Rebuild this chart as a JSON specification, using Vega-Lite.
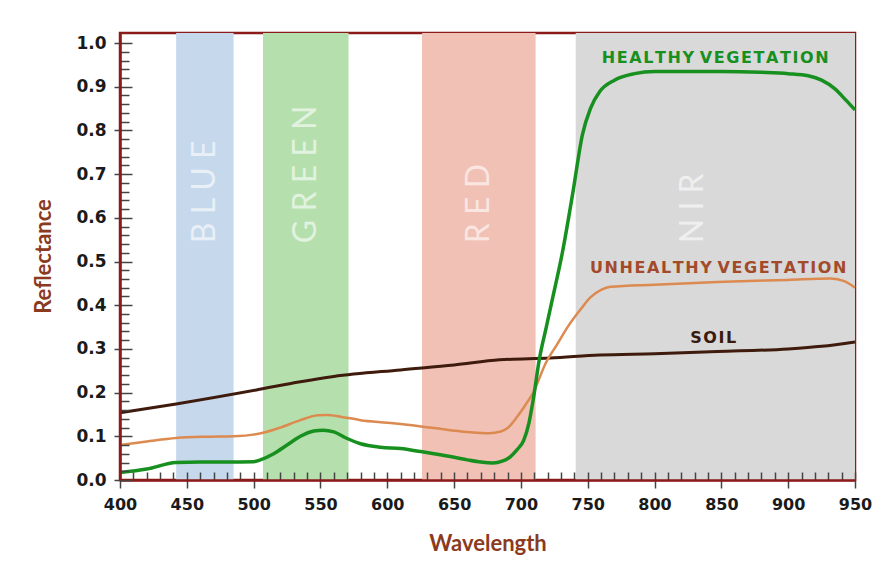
{
  "$schema": "https://vega.github.io/schema/vega-lite/v6.json",
  "width": 735,
  "height": 447,
  "autosize": "none",
  "padding": {"left": 120, "top": 33, "right": 38, "bottom": 93},
  "background": "white",
  "config": {
    "view": {"stroke": "#8b1a1a", "strokeWidth": 2.5},
    "axis": {"grid": false}
  },
  "datasets": {
    "bands": [
      {"band": "BLUE", "start": 442, "end": 485, "mid": 463.5, "label": "B  L  U  E", "pos": 0.542},
      {"band": "GREEN", "start": 507, "end": 571, "mid": 539, "label": "G  R  E  E  N", "pos": 0.542},
      {"band": "RED", "start": 626, "end": 711, "mid": 668.5, "label": "R  E  D", "pos": 0.542},
      {"band": "NIR", "start": 741, "end": 950, "mid": 829, "label": "N  I  R", "pos": 0.542}
    ],
    "spectra": [
      {"series": "soil", "wavelength": 400, "reflectance": 0.154},
      {"series": "soil", "wavelength": 442, "reflectance": 0.174},
      {"series": "soil", "wavelength": 502, "reflectance": 0.206},
      {"series": "soil", "wavelength": 535, "reflectance": 0.225},
      {"series": "soil", "wavelength": 560, "reflectance": 0.237},
      {"series": "soil", "wavelength": 610, "reflectance": 0.252},
      {"series": "soil", "wavelength": 650, "reflectance": 0.263},
      {"series": "soil", "wavelength": 684, "reflectance": 0.275},
      {"series": "soil", "wavelength": 722, "reflectance": 0.279},
      {"series": "soil", "wavelength": 759, "reflectance": 0.286},
      {"series": "soil", "wavelength": 800, "reflectance": 0.289},
      {"series": "soil", "wavelength": 847, "reflectance": 0.294},
      {"series": "soil", "wavelength": 900, "reflectance": 0.300},
      {"series": "soil", "wavelength": 925, "reflectance": 0.306},
      {"series": "soil", "wavelength": 950, "reflectance": 0.316},

      {"series": "unhealthy", "wavelength": 400, "reflectance": 0.080},
      {"series": "unhealthy", "wavelength": 420, "reflectance": 0.088},
      {"series": "unhealthy", "wavelength": 442, "reflectance": 0.096},
      {"series": "unhealthy", "wavelength": 465, "reflectance": 0.099},
      {"series": "unhealthy", "wavelength": 485, "reflectance": 0.100},
      {"series": "unhealthy", "wavelength": 507, "reflectance": 0.108},
      {"series": "unhealthy", "wavelength": 520, "reflectance": 0.120},
      {"series": "unhealthy", "wavelength": 535, "reflectance": 0.137},
      {"series": "unhealthy", "wavelength": 548, "reflectance": 0.148},
      {"series": "unhealthy", "wavelength": 555, "reflectance": 0.149},
      {"series": "unhealthy", "wavelength": 565, "reflectance": 0.145},
      {"series": "unhealthy", "wavelength": 580, "reflectance": 0.137},
      {"series": "unhealthy", "wavelength": 600, "reflectance": 0.131},
      {"series": "unhealthy", "wavelength": 610, "reflectance": 0.128},
      {"series": "unhealthy", "wavelength": 635, "reflectance": 0.119},
      {"series": "unhealthy", "wavelength": 660, "reflectance": 0.110},
      {"series": "unhealthy", "wavelength": 676, "reflectance": 0.107},
      {"series": "unhealthy", "wavelength": 685, "reflectance": 0.111},
      {"series": "unhealthy", "wavelength": 690, "reflectance": 0.119},
      {"series": "unhealthy", "wavelength": 697, "reflectance": 0.144},
      {"series": "unhealthy", "wavelength": 703, "reflectance": 0.170},
      {"series": "unhealthy", "wavelength": 709, "reflectance": 0.199},
      {"series": "unhealthy", "wavelength": 719, "reflectance": 0.270},
      {"series": "unhealthy", "wavelength": 727, "reflectance": 0.310},
      {"series": "unhealthy", "wavelength": 736, "reflectance": 0.355},
      {"series": "unhealthy", "wavelength": 745, "reflectance": 0.392},
      {"series": "unhealthy", "wavelength": 752, "reflectance": 0.418},
      {"series": "unhealthy", "wavelength": 760, "reflectance": 0.435},
      {"series": "unhealthy", "wavelength": 767, "reflectance": 0.442},
      {"series": "unhealthy", "wavelength": 800, "reflectance": 0.447},
      {"series": "unhealthy", "wavelength": 847, "reflectance": 0.453},
      {"series": "unhealthy", "wavelength": 900, "reflectance": 0.458},
      {"series": "unhealthy", "wavelength": 932, "reflectance": 0.461},
      {"series": "unhealthy", "wavelength": 942, "reflectance": 0.455},
      {"series": "unhealthy", "wavelength": 950, "reflectance": 0.440},

      {"series": "healthy", "wavelength": 400, "reflectance": 0.017},
      {"series": "healthy", "wavelength": 420, "reflectance": 0.025},
      {"series": "healthy", "wavelength": 442, "reflectance": 0.040},
      {"series": "healthy", "wavelength": 460, "reflectance": 0.041},
      {"series": "healthy", "wavelength": 480, "reflectance": 0.041},
      {"series": "healthy", "wavelength": 500, "reflectance": 0.042},
      {"series": "healthy", "wavelength": 505, "reflectance": 0.046},
      {"series": "healthy", "wavelength": 515, "reflectance": 0.060},
      {"series": "healthy", "wavelength": 525, "reflectance": 0.080},
      {"series": "healthy", "wavelength": 535, "reflectance": 0.100},
      {"series": "healthy", "wavelength": 545, "reflectance": 0.112},
      {"series": "healthy", "wavelength": 552, "reflectance": 0.114},
      {"series": "healthy", "wavelength": 560, "reflectance": 0.110},
      {"series": "healthy", "wavelength": 570, "reflectance": 0.095},
      {"series": "healthy", "wavelength": 580, "reflectance": 0.083},
      {"series": "healthy", "wavelength": 595, "reflectance": 0.075},
      {"series": "healthy", "wavelength": 610, "reflectance": 0.072},
      {"series": "healthy", "wavelength": 625, "reflectance": 0.065},
      {"series": "healthy", "wavelength": 635, "reflectance": 0.060},
      {"series": "healthy", "wavelength": 650, "reflectance": 0.052},
      {"series": "healthy", "wavelength": 660, "reflectance": 0.046},
      {"series": "healthy", "wavelength": 670, "reflectance": 0.041},
      {"series": "healthy", "wavelength": 679, "reflectance": 0.039},
      {"series": "healthy", "wavelength": 686, "reflectance": 0.043},
      {"series": "healthy", "wavelength": 692, "reflectance": 0.053},
      {"series": "healthy", "wavelength": 697, "reflectance": 0.069},
      {"series": "healthy", "wavelength": 702, "reflectance": 0.090},
      {"series": "healthy", "wavelength": 706, "reflectance": 0.130},
      {"series": "healthy", "wavelength": 709, "reflectance": 0.180},
      {"series": "healthy", "wavelength": 714, "reflectance": 0.280},
      {"series": "healthy", "wavelength": 719, "reflectance": 0.350},
      {"series": "healthy", "wavelength": 724, "reflectance": 0.420},
      {"series": "healthy", "wavelength": 731, "reflectance": 0.520},
      {"series": "healthy", "wavelength": 739, "reflectance": 0.660},
      {"series": "healthy", "wavelength": 746, "reflectance": 0.790},
      {"series": "healthy", "wavelength": 752, "reflectance": 0.850},
      {"series": "healthy", "wavelength": 759, "reflectance": 0.889},
      {"series": "healthy", "wavelength": 770, "reflectance": 0.915},
      {"series": "healthy", "wavelength": 785, "reflectance": 0.930},
      {"series": "healthy", "wavelength": 800, "reflectance": 0.935},
      {"series": "healthy", "wavelength": 850, "reflectance": 0.935},
      {"series": "healthy", "wavelength": 880, "reflectance": 0.933},
      {"series": "healthy", "wavelength": 900, "reflectance": 0.930},
      {"series": "healthy", "wavelength": 915, "reflectance": 0.925},
      {"series": "healthy", "wavelength": 925, "reflectance": 0.915},
      {"series": "healthy", "wavelength": 935, "reflectance": 0.895},
      {"series": "healthy", "wavelength": 943, "reflectance": 0.870},
      {"series": "healthy", "wavelength": 950, "reflectance": 0.847}
    ],
    "labels": [
      {"series": "healthy", "wavelength": 845.4, "reflectance": 0.966, "text": "H\u200aE\u200aA\u200aL\u200aT\u200aH\u200aY V\u200aE\u200aG\u200aE\u200aT\u200aA\u200aT\u200aI\u200aO\u200aN"},
      {"series": "unhealthy", "wavelength": 847.6, "reflectance": 0.485, "text": "U\u200aN\u200aH\u200aE\u200aA\u200aL\u200aT\u200aH\u200aY V\u200aE\u200aG\u200aE\u200aT\u200aA\u200aT\u200aI\u200aO\u200aN"},
      {"series": "soil", "wavelength": 843.9, "reflectance": 0.325, "text": "S\u200aO\u200aI\u200aL"}
    ]
  },
  "layer": [
    {
      "data": {"name": "bands"},
      "mark": {"type": "rect"},
      "encoding": {
        "x": {
          "field": "start", "type": "quantitative",
          "scale": {"domain": [400, 950], "nice": false, "zero": false},
          "axis": {
            "values": [400,410,420,430,440,450,460,470,480,490,500,510,520,530,540,550,560,570,580,590,600,610,620,630,640,650,660,670,680,690,700,710,720,730,740,750,760,770,780,790,800,810,820,830,840,850,860,870,880,890,900,910,920,930,940,950],
            "tickCount": 1000,
            "format": "d",
            "labelExpr": "datum.value % 50 === 0 ? datum.label : ''",
            "labelOverlap": false,
            "labelFlush": false,
            "labelFont": "DejaVu Sans",
            "labelFontWeight": "bold",
            "labelFontSize": 16,
            "labelColor": "#1a1a1a",
            "labelPadding": 8,
            "tickSize": 8,
            "tickColor": "#444444",
            "tickWidth": 1.5,
            "domainColor": "#8b1a1a",
            "domainWidth": 2.5,
            "zindex": 1,
            "title": "Wavelength",
            "titleFont": "Lato",
            "titleFontSize": 22,
            "titleFontWeight": "bold",
            "titleColor": "#8b3a1e",
            "titleBaseline": "middle",
            "titleY": 63,
            "encoding": {
              "ticks": {
                "y": {"value": -8},
                "y2": {"condition": {"test": "datum.value % 50 === 0", "value": 8}, "value": 0}
              }
            }
          }
        },
        "x2": {"field": "end"},
        "color": {
          "field": "band", "type": "nominal",
          "scale": {"domain": ["BLUE", "GREEN", "RED", "NIR"], "range": ["#c6d8ec", "#b5e0ae", "#f1c1b5", "#d9d9d9"]},
          "legend": null
        }
      }
    },
    {
      "data": {"name": "bands"},
      "mark": {"type": "text", "angle": 270, "align": "left", "baseline": "middle", "font": "Lato", "fontSize": 32, "fontWeight": "normal", "color": "white", "opacity": 0.6},
      "encoding": {
        "x": {"field": "mid", "type": "quantitative"},
        "y": {"field": "pos", "type": "quantitative"},
        "text": {"field": "label"}
      }
    },
    {
      "data": {"name": "spectra"},
      "transform": [{"filter": "datum.series === 'soil'"}],
      "mark": {"type": "line", "color": "#3e1b0d", "strokeWidth": 3, "interpolate": "monotone"},
      "encoding": {
        "x": {"field": "wavelength", "type": "quantitative"},
        "y": {
          "field": "reflectance", "type": "quantitative",
          "scale": {"domain": [0, 1.023], "nice": false},
          "axis": {
            "values": [0,0.02,0.04,0.06,0.08,0.1,0.12,0.14,0.16,0.18,0.2,0.22,0.24,0.26,0.28,0.3,0.32,0.34,0.36,0.38,0.4,0.42,0.44,0.46,0.48,0.5,0.52,0.54,0.56,0.58,0.6,0.62,0.64,0.66,0.68,0.7,0.72,0.74,0.76,0.78,0.8,0.82,0.84,0.86,0.88,0.9,0.92,0.94,0.96,0.98,1.0],
            "tickCount": 1000,
            "format": ".1f",
            "labelExpr": "abs(datum.value * 10 - round(datum.value * 10)) < 0.001 ? datum.label : ''",
            "labelOverlap": false,
            "labelFlush": false,
            "labelFont": "DejaVu Sans",
            "labelFontWeight": "bold",
            "labelFontSize": 17,
            "labelColor": "#1a1a1a",
            "labelPadding": 8,
            "tickSize": 6,
            "tickColor": "#444444",
            "tickWidth": 1.5,
            "domainColor": "#8b1a1a",
            "domainWidth": 2.5,
            "zindex": 1,
            "title": "Reflectance",
            "titleFont": "Lato",
            "titleFontSize": 22,
            "titleFontWeight": "bold",
            "titleColor": "#8b3a1e",
            "titleBaseline": "middle",
            "titleX": -77,
            "titleY": 223,
            "encoding": {
              "ticks": {
                "x": {"condition": {"test": "abs(datum.value * 10 - round(datum.value * 10)) < 0.001", "value": 12}, "value": 9},
                "x2": {"condition": {"test": "abs(datum.value * 10 - round(datum.value * 10)) < 0.001", "value": -6}, "value": 0}
              }
            }
          }
        }
      }
    },
    {
      "data": {"name": "spectra"},
      "transform": [{"filter": "datum.series === 'unhealthy'"}],
      "mark": {"type": "line", "color": "#dc8a4f", "strokeWidth": 2.5, "interpolate": "monotone"},
      "encoding": {
        "x": {"field": "wavelength", "type": "quantitative"},
        "y": {"field": "reflectance", "type": "quantitative"}
      }
    },
    {
      "data": {"name": "spectra"},
      "transform": [{"filter": "datum.series === 'healthy'"}],
      "mark": {"type": "line", "color": "#17901f", "strokeWidth": 3.5, "interpolate": "monotone"},
      "encoding": {
        "x": {"field": "wavelength", "type": "quantitative"},
        "y": {"field": "reflectance", "type": "quantitative"}
      }
    },
    {
      "data": {"name": "labels"},
      "mark": {"type": "text", "align": "center", "baseline": "middle", "font": "DejaVu Sans", "fontWeight": "bold", "fontSize": 16},
      "encoding": {
        "x": {"field": "wavelength", "type": "quantitative"},
        "y": {"field": "reflectance", "type": "quantitative"},
        "text": {"field": "text"},
        "color": {
          "field": "series", "type": "nominal",
          "scale": {"domain": ["healthy", "unhealthy", "soil"], "range": ["#17901f", "#a34a2b", "#3a1a0e"]},
          "legend": null
        }
      }
    }
  ],
  "resolve": {"scale": {"color": "independent"}}
}
